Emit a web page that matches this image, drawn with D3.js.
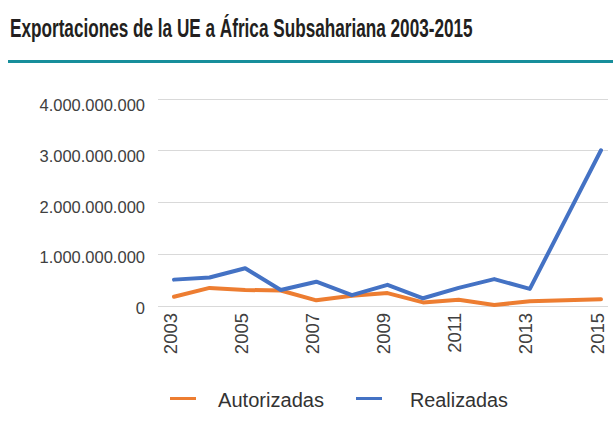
<!doctype html>
<html>
<head>
<meta charset="utf-8"/>
<title>Exportaciones de la UE a África Subsahariana 2003-2015</title>
<script src="https://d3js.org/d3.v7.min.js"></script>
<style>
body { margin:0; background:#fff; }
</style>
</head>
<body>
<script>
// datos (euros)
var years = [2003,2004,2005,2006,2007,2008,2009,2010,2011,2012,2013,2014,2015];
var realizadas  = [0.50e9,0.54e9,0.72e9,0.30e9,0.46e9,0.20e9,0.40e9,0.14e9,0.34e9,0.51e9,0.32e9,1.66e9,3.00e9];
var autorizadas = [0.17e9,0.34e9,0.30e9,0.29e9,0.10e9,0.19e9,0.24e9,0.06e9,0.11e9,0.01e9,0.08e9,0.10e9,0.12e9];
var yTicks = [0,1e9,2e9,3e9,4e9];
var xTicks = [2003,2005,2007,2009,2011,2013,2015];
var seriesNames = ["Autorizadas","Realizadas"];
var colores = ["#ED7D31","#4472C4"];

var W = 613, H = 428;
var svg = d3.select("body").append("svg")
    .attr("width", W).attr("height", H);

// titulo: fuente condensada simulada con escala horizontal
var titulo = svg.append("text")
    .attr("x", 0).attr("y", 0)
    .attr("font-family", "Liberation Sans, Arial, sans-serif")
    .attr("font-weight", "bold")
    .attr("font-size", 26)
    .attr("fill", "#231f20")
    .text("Exportaciones de la UE a África Subsahariana 2003-2015");
var tw = titulo.node().getComputedTextLength();
titulo.attr("transform", "translate(10,37) scale(" + (463/tw) + ",1)");

svg.append("rect")
    .attr("x", 8).attr("y", 60).attr("width", W-8).attr("height", 3)
    .attr("fill", "#178e9b");

var x = d3.scaleLinear().domain([2003,2015]).range([174,601]);
var y = d3.scaleLinear().domain([0,4e9]).range([305.5,98.5]);
// etiquetas del eje y (ligeramente desplazadas respecto a la rejilla, como en el original)
var yLab = d3.scaleLinear().domain([0,4e9]).range([307.7,105.5]);

var fmt = function(d){ return d3.format(",")(d).replace(/,/g,"."); };

// rejilla
svg.append("g").selectAll("line").data(yTicks).enter().append("line")
    .attr("x1", 158).attr("x2", 608)
    .attr("y1", function(d){ return Math.round(y(d))+0.5; })
    .attr("y2", function(d){ return Math.round(y(d))+0.5; })
    .attr("stroke", "#d9d9d9").attr("stroke-width", 1);

svg.append("g").selectAll("text").data(yTicks).enter().append("text")
    .attr("x", 145).attr("y", function(d){ return yLab(d); })
    .attr("dy", "0.36em")
    .attr("text-anchor", "end")
    .attr("font-family", "Liberation Sans, Arial, sans-serif")
    .attr("font-size", 16.5)
    .attr("fill", "#404040")
    .text(fmt);

svg.append("g").selectAll("text").data(xTicks).enter().append("text")
    .attr("transform", function(d){ return "translate(" + (x(d)+2.5) + ",313) rotate(-90)"; })
    .attr("text-anchor", "end")
    .attr("font-family", "Liberation Sans, Arial, sans-serif")
    .attr("font-size", 18.5)
    .attr("fill", "#404040")
    .text(function(d){ return d; });

var line = d3.line()
    .x(function(d,i){ return x(years[i]); })
    .y(function(d){ return y(d); });

[autorizadas, realizadas].forEach(function(s, k){
  svg.append("path")
    .attr("d", line(s))
    .attr("fill", "none")
    .attr("stroke", colores[k])
    .attr("stroke-width", 4)
    .attr("stroke-linejoin", "round")
    .attr("stroke-linecap", "round");
});

// leyenda
var leg = [ {x:170, tx:218, w:106}, {x:356, tx:410, w:98} ];
seriesNames.forEach(function(n, k){
  svg.append("line")
    .attr("x1", leg[k].x).attr("x2", leg[k].x+26)
    .attr("y1", 398.5).attr("y2", 398.5)
    .attr("stroke", colores[k]).attr("stroke-width", 3);
  svg.append("text")
    .attr("x", leg[k].tx).attr("y", 406.5)
    .attr("font-family", "Liberation Sans, Arial, sans-serif")
    .attr("font-size", 20)
    .attr("textLength", leg[k].w)
    .attr("lengthAdjust", "spacingAndGlyphs")
    .attr("fill", "#333")
    .text(n);
});
</script>
</body>
</html>
